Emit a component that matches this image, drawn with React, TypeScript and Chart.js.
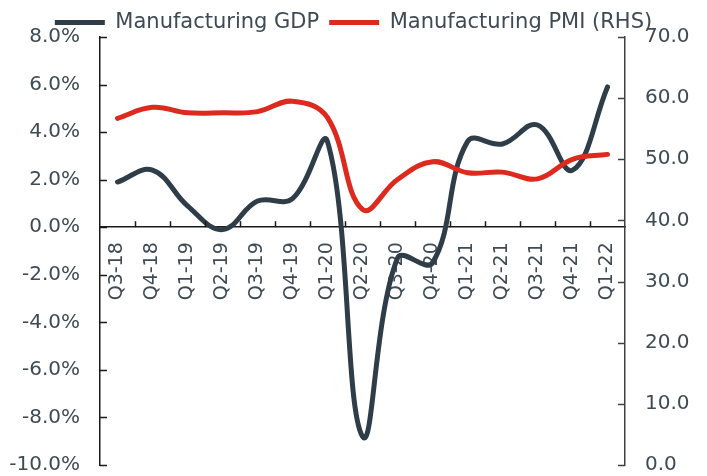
import React, { useEffect, useRef } from 'react';
import { Chart, registerables } from 'chart.js';

Chart.register(...registerables);

const categories = ['Q3-18', 'Q4-18', 'Q1-19', 'Q2-19', 'Q3-19', 'Q4-19', 'Q1-20', 'Q2-20', 'Q3-20', 'Q4-20', 'Q1-21', 'Q2-21', 'Q3-21', 'Q4-21', 'Q1-22'];
const gdpValues = [1.9, 2.4, 0.9, -0.1, 1.1, 1.2, 3.6, -8.8, -1.3, -1.5, 3.6, 3.5, 4.3, 2.4, 5.9];
const pmiValues = [56.7, 58.5, 57.6, 57.6, 57.8, 59.5, 56.8, 41.8, 46.7, 49.6, 47.8, 47.9, 46.8, 50.0, 50.8];
const gdpLabel = 'Manufacturing GDP';
const pmiLabel = 'Manufacturing PMI (RHS)';
const leftMin = -10;
const leftMax = 8;
const leftStep = 2;
const rightMin = 0;
const rightMax = 70;
const rightStep = 10;

const FONT = 'DejaVu Sans';
const TEXT = '#3e4a54';
const DARK = '#2e3d48';
const RED = '#dc2a1e';

const tickMarks = {
  id: 'tickMarks',
  afterDraw(chart: any) {
    const { ctx, scales } = chart;
    const xs = scales.x, yl = scales.y, yr = scales.y1;
    ctx.save();
    ctx.lineWidth = 1.5;
    ctx.strokeStyle = '#1a1a1a';
    yl.ticks.forEach((_t: any, i: number) => {
      const y = Math.round(yl.getPixelForTick(i)) + 0.5;
      ctx.beginPath();
      ctx.moveTo(yl.right, y);
      ctx.lineTo(yl.right + 7, y);
      ctx.stroke();
    });
    ctx.strokeStyle = '#404040';
    yr.ticks.forEach((_t: any, i: number) => {
      const y = Math.round(yr.getPixelForTick(i)) + 0.5;
      ctx.beginPath();
      ctx.moveTo(yr.left, y);
      ctx.lineTo(yr.left - 7, y);
      ctx.stroke();
    });
    ctx.strokeStyle = '#1a1a1a';
    const step = xs.getPixelForValue(1) - xs.getPixelForValue(0);
    const y0 = yl.getPixelForValue(0);
    for (let i = 1; i < categories.length; i++) {
      const x = Math.round(xs.getPixelForValue(i) - step / 2) + 0.5;
      ctx.beginPath();
      ctx.moveTo(x, y0);
      ctx.lineTo(x, y0 - 6);
      ctx.stroke();
    }
    ctx.restore();
  },
};

export default function App() {
  const ref = useRef<HTMLCanvasElement>(null);
  useEffect(() => {
    document.documentElement.style.overflow = 'hidden';
    const chart = new Chart(ref.current as HTMLCanvasElement, {
      type: 'line',
      data: {
        labels: categories,
        datasets: [
          {
            label: gdpLabel,
            data: gdpValues,
            yAxisID: 'y',
            borderColor: DARK,
            backgroundColor: DARK,
            borderWidth: 5,
            borderCapStyle: 'round',
            borderJoinStyle: 'round',
            pointRadius: 0,
            tension: 0.4,
            order: 1,
          },
          {
            label: pmiLabel,
            data: pmiValues,
            yAxisID: 'y1',
            borderColor: RED,
            backgroundColor: RED,
            borderWidth: 5,
            borderCapStyle: 'round',
            borderJoinStyle: 'round',
            pointRadius: 0,
            tension: 0.4,
            order: 0,
          },
        ],
      },
      options: {
        animation: false,
        responsive: false,
        devicePixelRatio: 1,
        layout: { padding: { top: -6, left: 0, right: 0, bottom: 11 } },
        plugins: {
          legend: {
            position: 'top',
            maxHeight: 35,
            labels: {
              usePointStyle: true,
              pointStyle: 'line',
              pointStyleWidth: 50,
              padding: 10,
              color: TEXT,
              font: { family: FONT, size: 21 },
              sort: (a: any, b: any) => a.datasetIndex - b.datasetIndex,
            },
          },
          tooltip: { enabled: false },
        },
        scales: {
          x: {
            type: 'category',
            offset: true,
            position: { y: 0 },
            grid: { display: false, drawTicks: true, tickLength: 15 },
            border: { display: true, color: '#1a1a1a', width: 1.5 },
            ticks: {
              minRotation: 90,
              maxRotation: 90,
              autoSkip: false,
              padding: 0,
              color: TEXT,
              font: { family: FONT, size: 19 },
            },
          },
          y: {
            position: 'left',
            min: leftMin,
            max: leftMax,
            afterFit: (s: any) => { s.width = 92; },
            grid: { display: false, drawTicks: true, tickLength: 20 },
            border: { display: true, color: '#1a1a1a', width: 1.5 },
            ticks: {
              stepSize: leftStep,
              padding: 0,
              color: TEXT,
              font: { family: FONT, size: 20, lineHeight: 1.1 },
              callback: (v: any) => Number(v).toFixed(1) + '%',
            },
          },
          y1: {
            position: 'right',
            min: rightMin,
            max: rightMax,
            afterFit: (s: any) => { s.width = 74; },
            grid: { display: false, drawTicks: true, tickLength: 20 },
            border: { display: true, color: '#404040', width: 1.5 },
            ticks: {
              stepSize: rightStep,
              padding: 0,
              color: TEXT,
              font: { family: FONT, size: 20, lineHeight: 1.1 },
              callback: (v: any) => Number(v).toFixed(1),
            },
          },
        },
      },
      plugins: [tickMarks],
    } as any);
    return () => chart.destroy();
  }, []);
  return (
    <div style={{ width: 691, height: 468 }}>
      <canvas ref={ref} width={691} height={468} style={{ display: 'block' }} />
    </div>
  );
}
